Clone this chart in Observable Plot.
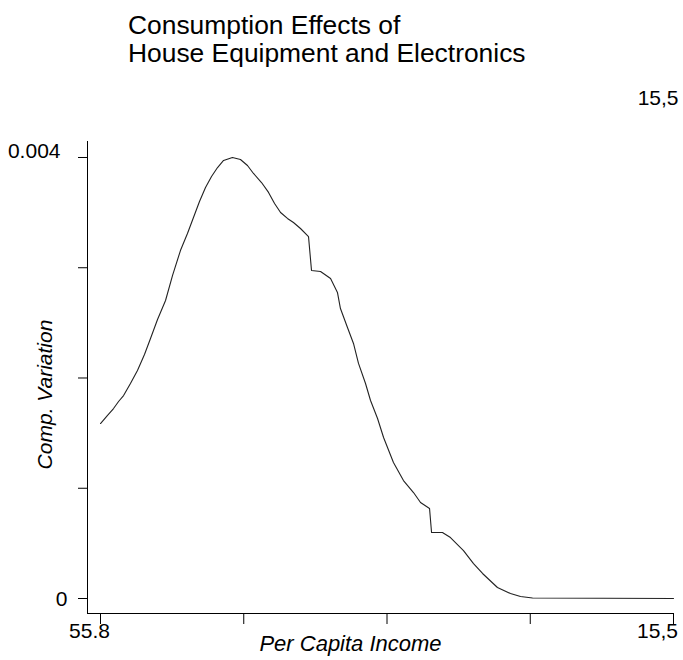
<!DOCTYPE html>
<html>
<head>
<meta charset="utf-8">
<script src="https://cdn.jsdelivr.net/npm/d3@7"></script>
<script src="https://cdn.jsdelivr.net/npm/@observablehq/plot@0.6"></script>
<style>
  body { margin: 0; background: #fff; font-family: "Liberation Sans", Arial, sans-serif; }
  #title { position: relative; height: 63px; padding-left: 128px; font-size: 26.4px; line-height: 28px; color: #000; box-sizing: border-box; padding-top: 11px; white-space: nowrap; }
  #chart svg { display: block; }
</style>
</head>
<body>
<div id="title">Consumption Effects of<br>House Equipment and Electronics</div>
<div id="chart"></div>
<script>
// Data (x in axis-tick units: 0 = "55.8" ... 4 = "15,5")
const incomePos = [0, 0.049, 0.091, 0.126, 0.161, 0.209, 0.258, 0.307, 0.349, 0.398, 0.454, 0.503, 0.558, 0.607, 0.649, 0.691, 0.733, 0.775, 0.817, 0.859, 0.921, 0.977, 1.026, 1.068, 1.124, 1.173, 1.215, 1.257, 1.305, 1.347, 1.396, 1.452, 1.473, 1.536, 1.606, 1.654, 1.675, 1.724, 1.766, 1.801, 1.850, 1.885, 1.934, 1.976, 2.045, 2.115, 2.185, 2.234, 2.297, 2.311, 2.387, 2.443, 2.534, 2.604, 2.667, 2.771, 2.862, 2.932, 3.016, 4.0];
const compVariation = [0.001587, 0.001660, 0.001723, 0.001787, 0.001841, 0.001950, 0.002068, 0.002213, 0.002358, 0.002531, 0.002703, 0.002930, 0.003156, 0.003311, 0.003456, 0.003601, 0.003728, 0.003828, 0.003909, 0.003973, 0.004000, 0.003982, 0.003927, 0.003855, 0.003773, 0.003683, 0.003583, 0.003501, 0.003447, 0.003410, 0.003356, 0.003283, 0.002975, 0.002966, 0.002902, 0.002776, 0.002630, 0.002458, 0.002313, 0.002132, 0.001950, 0.001796, 0.001633, 0.001460, 0.001234, 0.001070, 0.000961, 0.000871, 0.000816, 0.000599, 0.000599, 0.000553, 0.000435, 0.000317, 0.000227, 0.000100, 0.000045, 0.000018, 0.000005, 0];
const xTicks = [0, 1, 2, 3, 4];
const xTickLabels = ["55.8", "", "", "", "15,5"];
const yTicks = [0, 0.001, 0.002, 0.003, 0.004];
const yTickLabels = ["0", "", "", "", "0.004"];
const xLabel = "Per Capita Income";
const yLabel = "Comp. Variation";
const cornerLabel = "15,5";

const data = incomePos.map((x, i) => ({x, y: compVariation[i]}));
const X0 = -0.0908, X1 = 4;
const Y0 = -0.000136, Y1 = 0.004145;

const xLab = xTicks.map((t, i) => ({t, label: xTickLabels[i], dx: i === 0 ? -11 : -16})).filter(d => d.label);
const yLab = yTicks.map((t, i) => ({t, label: yTickLabels[i], dx: t === 0 ? -20 : -27, dy: t === 0 ? 1 : -6})).filter(d => d.label);

const font = "Liberation Sans, Arial, sans-serif";
const chart = Plot.plot({
  width: 683,
  height: 597,
  marginLeft: 87,
  marginRight: 10,
  marginTop: 78,
  marginBottom: 47,
  style: {fontFamily: font, fontSize: "21px", color: "#000", background: "#fff"},
  x: {domain: [X0, X1], axis: null},
  y: {domain: [Y0, Y1], axis: null},
  marks: [
    Plot.ruleX([X0], {y1: Y0, y2: Y1, stroke: "#000", strokeWidth: 1}),
    Plot.ruleY([Y0], {x1: X0, x2: X1, stroke: "#000", strokeWidth: 1}),
    Plot.axisX(xTicks, {anchor: "bottom", tickSize: 11, tickFormat: () => "", stroke: "#000"}),
    Plot.axisY(yTicks, {anchor: "left", tickSize: 9, tickFormat: () => "", stroke: "#000"}),
    ...xLab.map(d => Plot.text([d], {x: "t", y: () => Y0, text: "label", dx: d.dx, dy: 18, fontSize: 21, fill: "#000"})),
    ...yLab.map(d => Plot.text([d], {x: () => X0, y: "t", text: "label", textAnchor: "end", dx: d.dx, dy: d.dy, fontSize: 21, fill: "#000"})),
    Plot.text([xLabel], {frameAnchor: "bottom", lineAnchor: "bottom", dx: -30, dy: 37, fontSize: 22, fontStyle: "italic", fill: "#000"}),
    Plot.text([yLabel], {frameAnchor: "left", textAnchor: "middle", rotate: -90, dx: -42, dy: 17, fontSize: 21, fontStyle: "italic", fill: "#000"}),
    Plot.text([cornerLabel], {frameAnchor: "top-right", textAnchor: "end", dx: 5, dy: -51, fontSize: 21, fill: "#000"}),
    Plot.line(data, {x: "x", y: "y", stroke: "#222", strokeWidth: 1.1})
  ]
});
document.getElementById("chart").appendChild(chart);
</script>
</body>
</html>
